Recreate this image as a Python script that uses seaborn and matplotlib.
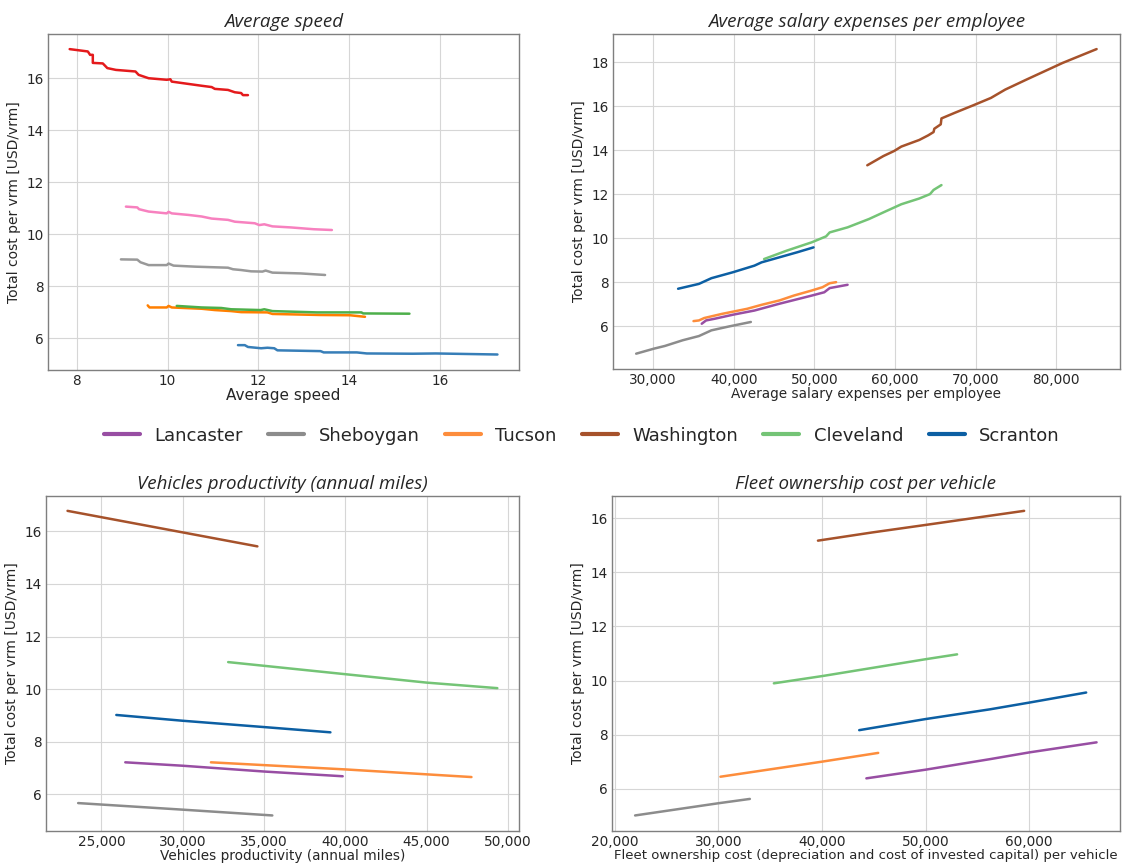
import matplotlib
matplotlib.use("Agg")
import pandas as pd
import seaborn as sns
import matplotlib.pyplot as plt
from matplotlib.lines import Line2D
from matplotlib.ticker import FuncFormatter

cities = ["Lancaster", "Sheboygan", "Tucson", "Washington", "Cleveland", "Scranton"]
city_colors = ["#984ea3", "#8c8c8c", "#fd8d3c", "#a6522b", "#74c476", "#0c5fa3"]

# colours used in the average speed panel (different from the legend)
speed_colors = {"Washington": "#e41a1c", "Cleveland": "#f781bf", "Scranton": "#999999",
                "Lancaster": "#4daf4a", "Tucson": "#ff7f00", "Sheboygan": "#377eb8"}

# --- Average speed ---
speed_x = {
    "Washington": [7.84, 8.24, 8.29, 8.35, 8.35, 8.57, 8.67, 8.86, 9.29, 9.36, 9.58, 9.98, 10.06, 10.09,
                   10.46, 10.75, 10.97, 11.04, 11.33, 11.48, 11.62, 11.66, 11.77],
    "Cleveland": [9.08, 9.33, 9.37, 9.58, 9.98, 10.02, 10.09, 10.46, 10.75, 10.97, 11.33, 11.48, 11.92,
                  12.02, 12.13, 12.31, 12.71, 13.22, 13.62],
    "Scranton": [8.97, 9.33, 9.40, 9.58, 9.98, 10.02, 10.13, 10.60, 11.33, 11.44, 11.62, 11.84, 12.09,
                 12.16, 12.31, 12.93, 13.47],
    "Tucson": [9.56, 9.60, 9.98, 10.02, 10.09, 10.75, 11.04, 11.40, 11.62, 12.20, 12.31, 13.37, 14.02, 14.35],
    "Lancaster": [10.20, 10.75, 11.18, 11.40, 12.05, 12.13, 12.31, 13.29, 14.27, 14.31, 15.33],
    "Sheboygan": [11.55, 11.70, 11.77, 12.06, 12.20, 12.35, 12.42, 13.37, 13.44, 14.17, 14.39, 15.40,
                  15.91, 17.27],
}
speed_y = {
    "Washington": [17.13, 17.04, 16.91, 16.91, 16.60, 16.58, 16.40, 16.33, 16.27, 16.14, 16.01, 15.95, 15.97,
                   15.88, 15.79, 15.72, 15.67, 15.60, 15.56, 15.47, 15.44, 15.36, 15.36],
    "Cleveland": [11.07, 11.04, 10.97, 10.88, 10.81, 10.87, 10.81, 10.75, 10.69, 10.61, 10.56, 10.49, 10.43,
                  10.36, 10.39, 10.31, 10.27, 10.20, 10.17],
    "Scranton": [9.04, 9.03, 8.93, 8.82, 8.82, 8.88, 8.80, 8.76, 8.72, 8.66, 8.63, 8.58, 8.57, 8.61, 8.53,
                 8.50, 8.44],
    "Tucson": [7.27, 7.19, 7.19, 7.25, 7.19, 7.14, 7.09, 7.05, 7.01, 7.00, 6.94, 6.90, 6.89, 6.83],
    "Lancaster": [7.25, 7.19, 7.17, 7.12, 7.09, 7.12, 7.05, 7.00, 7.00, 6.96, 6.95],
    "Sheboygan": [5.74, 5.74, 5.67, 5.62, 5.64, 5.62, 5.54, 5.51, 5.46, 5.46, 5.42, 5.41, 5.42, 5.38],
}

# --- Average salary expenses per employee ---
salary_x = {
    "Washington": [56578, 58578, 59911, 60800, 63022, 64133, 64800, 64889, 65689, 65778, 67467, 69689,
                   71911, 73689, 76356, 80800, 85022],
    "Cleveland": [43778, 46578, 49689, 51467, 51911, 54133, 56800, 58578, 60800, 63022, 64356, 64800, 65778],
    "Scranton": [33111, 35689, 37244, 39911, 42578, 43467, 45689, 47911, 49911],
    "Tucson": [35022, 35689, 36356, 38578, 41689, 43467, 45689, 47467, 49689, 51022, 51911, 52711],
    "Lancaster": [36044, 36578, 37689, 39911, 42578, 45689, 49689, 51244, 51911, 54133],
    "Sheboygan": [27911, 30133, 31467, 33689, 35689, 37244, 39467, 42133],
}
salary_y = {
    "Washington": [13.32, 13.74, 13.97, 14.17, 14.47, 14.68, 14.83, 14.98, 15.18, 15.45, 15.71, 16.04,
                   16.38, 16.76, 17.22, 17.97, 18.60],
    "Cleveland": [9.06, 9.44, 9.82, 10.09, 10.27, 10.50, 10.88, 11.18, 11.55, 11.81, 12.01, 12.20, 12.42],
    "Scranton": [7.71, 7.93, 8.19, 8.46, 8.76, 8.91, 9.14, 9.37, 9.59],
    "Tucson": [6.24, 6.27, 6.38, 6.57, 6.80, 6.98, 7.18, 7.40, 7.63, 7.78, 7.96, 8.01],
    "Lancaster": [6.12, 6.27, 6.35, 6.53, 6.72, 7.03, 7.40, 7.55, 7.74, 7.89],
    "Sheboygan": [4.76, 4.99, 5.11, 5.37, 5.56, 5.82, 6.00, 6.20],
}

# --- Vehicles productivity (annual miles) ---
miles_x = {
    "Washington": [22918, 34592],
    "Cleveland": [32796, 40000, 45000, 49347],
    "Scranton": [25918, 30000, 35000, 39082],
    "Tucson": [31735, 40000, 47755],
    "Lancaster": [26469, 30000, 35000, 39837],
    "Sheboygan": [23571, 30000, 35510],
}
miles_y = {
    "Washington": [16.78, 15.43],
    "Cleveland": [11.03, 10.57, 10.25, 10.04],
    "Scranton": [9.02, 8.80, 8.56, 8.36],
    "Tucson": [7.22, 6.95, 6.66],
    "Lancaster": [7.22, 7.09, 6.87, 6.69],
    "Sheboygan": [5.67, 5.42, 5.20],
}

# --- Fleet ownership cost per vehicle ---
fleet_x = {
    "Washington": [39619, 44810, 50000, 59516],
    "Cleveland": [35363, 40069, 50000, 53045],
    "Scranton": [43599, 50000, 56228, 60035, 65501],
    "Tucson": [30208, 40069, 45433],
    "Lancaster": [44291, 50000, 56228, 60035, 66505],
    "Sheboygan": [21972, 30000, 33045],
}
fleet_y = {
    "Washington": [15.17, 15.47, 15.75, 16.27],
    "Cleveland": [9.90, 10.17, 10.79, 10.97],
    "Scranton": [8.17, 8.58, 8.94, 9.19, 9.56],
    "Tucson": [6.45, 7.01, 7.33],
    "Lancaster": [6.39, 6.71, 7.10, 7.35, 7.72],
    "Sheboygan": [5.02, 5.47, 5.63],
}


def to_frame(xs, ys):
    rows = []
    for city in xs:
        for i, (x, y) in enumerate(zip(xs[city], ys[city])):
            rows.append({"city": city, "order": i, "x": x, "y": y})
    return pd.DataFrame(rows)


sns.set_style("whitegrid")
plt.rcParams["font.family"] = ["DejaVu Sans"]
plt.rcParams["axes.edgecolor"] = "#7f7f7f"
plt.rcParams["grid.color"] = "#d6d6d6"

fig = plt.figure(figsize=(11.23, 8.68), dpi=100)
positions = [
    [0.043, 0.574, 0.419, 0.387],
    [0.546, 0.575, 0.451, 0.386],
    [0.041, 0.043, 0.421, 0.386],
    [0.545, 0.043, 0.452, 0.386],
]
panels = [
    ("Average speed", "Average speed", 11, speed_x, speed_y, False),
    ("Average salary expenses per employee", "Average salary expenses per employee", 9.8,
     salary_x, salary_y, True),
    ("Vehicles productivity (annual miles)", "Vehicles productivity (annual miles)", 9.8,
     miles_x, miles_y, True),
    ("Fleet ownership cost per vehicle",
     "Fleet ownership cost (depreciation and cost of invested capital) per vehicle", 9.5,
     fleet_x, fleet_y, True),
]
legend_palette = dict(zip(cities, city_colors))

for pos, (title, xlabel, xsize, xs, ys, thousands) in zip(positions, panels):
    ax = fig.add_axes(pos)
    df = to_frame(xs, ys)
    pal = legend_palette if thousands else speed_colors
    sns.lineplot(data=df, x="x", y="y", hue="city", units="city", estimator=None, sort=False,
                 palette=pal, linewidth=1.8, legend=False, ax=ax)
    ax.set_title(title, fontsize=13.5, style="italic", family="Open Sans", pad=5)
    ax.set_xlabel(xlabel, fontsize=xsize, labelpad=0)
    ax.set_ylabel("Total cost per vrm [USD/vrm]", fontsize=10, labelpad=4)
    ax.tick_params(labelsize=9.8, length=0, pad=3)
    ax.margins(x=0.05, y=0.05)
    if thousands:
        ax.xaxis.set_major_formatter(FuncFormatter(lambda v, p: f"{v:,.0f}"))
    for s in ax.spines.values():
        s.set_linewidth(1.0)

handles = [Line2D([0], [0], color=c, lw=3) for c in city_colors]
fig.legend(handles, cities, loc="center", bbox_to_anchor=(0.518, 0.498), ncol=6, frameon=False,
           fontsize=13, handlelength=2.0, columnspacing=1.4, handletextpad=0.8)

fig.savefig("out.png", dpi=100)
